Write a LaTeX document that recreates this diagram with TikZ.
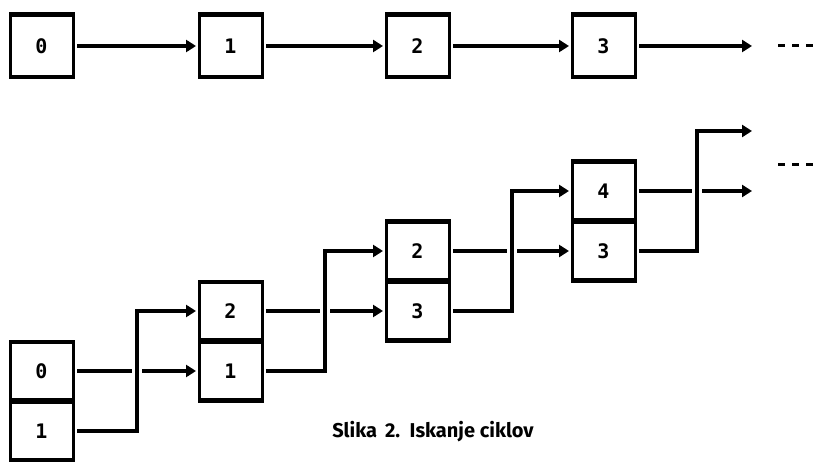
\documentclass[tikz,border=0pt]{standalone}
\usepackage{fontspec}
\newfontfamily\boxfont{DejaVu Sans Mono}
\newfontfamily\capfont{Fira Sans}
\usetikzlibrary{arrows.meta}
\tikzset{
  cell/.style={draw, line width=3pt, minimum width=63pt, minimum height=60pt,
    inner sep=0pt, outer sep=0pt, anchor=north west,
    font=\boxfont\bfseries\fontsize{20}{20}\selectfont,
    path picture={\draw[line width=6pt]
      (path picture bounding box.north west) -- (path picture bounding box.north east)
      (path picture bounding box.south west) -- (path picture bounding box.south east);}},
  toprow/.style={cell, minimum height=64pt},
  link/.style={line width=4.5pt, line join=miter, -{Triangle[length=10pt,width=12pt]},
    shorten <=4pt, shorten >=3pt},
  gap/.style={draw=white, line width=10pt},
  dashes/.style={line width=3pt, dash pattern=on 7pt off 7pt}
}
\begin{document}
\begin{tikzpicture}[x=1pt,y=-1pt]
\useasboundingbox[fill=white] (0,0) rectangle (818,462);
% top row
\node[toprow] (t0) at (10,14) {0};
\node[toprow] (t1) at (199,14) {1};
\node[toprow] (t2) at (386,14) {2};
\node[toprow] (t3) at (572,14) {3};
\coordinate (e0) at (755,46);
\coordinate (d0a) at (778,46);
\coordinate (d0b) at (818,46);
\draw[link] (t0.east) -- (t1.west);
\draw[link] (t1.east) -- (t2.west);
\draw[link] (t2.east) -- (t3.west);
\draw[link] (t3.east) -- (e0);
\draw[dashes] (d0a) -- (d0b);
% bottom pairs
\node[cell] (a0) at (10,341) {0};
\node[cell] (b0) at (10,401) {1};
\node[cell] (a1) at (199,281) {2};
\node[cell] (b1) at (199,341) {1};
\node[cell] (a2) at (386,221) {2};
\node[cell] (b2) at (386,281) {3};
\node[cell] (a3) at (572,161) {4};
\node[cell] (b3) at (572,221) {3};
\coordinate (e1) at (755,131);
\coordinate (e2) at (755,191);
\coordinate (d1a) at (778,165);
\coordinate (d1b) at (818,165);
% straight links
\draw[link] (a0.east) -- (b1.west);
\draw[link] (a1.east) -- (b2.west);
\draw[link] (a2.east) -- (b3.west);
\draw[link] (a3.east) -- (e2);
\draw[dashes] (d1a) -- (d1b);
% crossings
\coordinate (x0) at (137,371);
\coordinate (x1) at (325,311);
\coordinate (x2) at (512,251);
\coordinate (x3) at (697,191);
\foreach \c in {x0,x1,x2,x3}
  \draw[gap] ([yshift=5pt]\c) -- ([yshift=-5pt]\c);
% elbows
\coordinate (v0) at (137,431);
\coordinate (v1) at (325,371);
\coordinate (v2) at (512,311);
\coordinate (v3) at (697,251);
\draw[link] (b0.east) -- (v0) |- (a1.west);
\draw[link] (b1.east) -- (v1) |- (a2.west);
\draw[link] (b2.east) -- (v2) |- (a3.west);
\draw[link] (b3.east) -- (v3) |- (e1);
% caption
\node[anchor=base] (cap) at (433,437) {\capfont\bfseries\fontsize{20}{20}\selectfont Slika\, 2.\ \ Iskanje ciklov};
\end{tikzpicture}
\end{document}
